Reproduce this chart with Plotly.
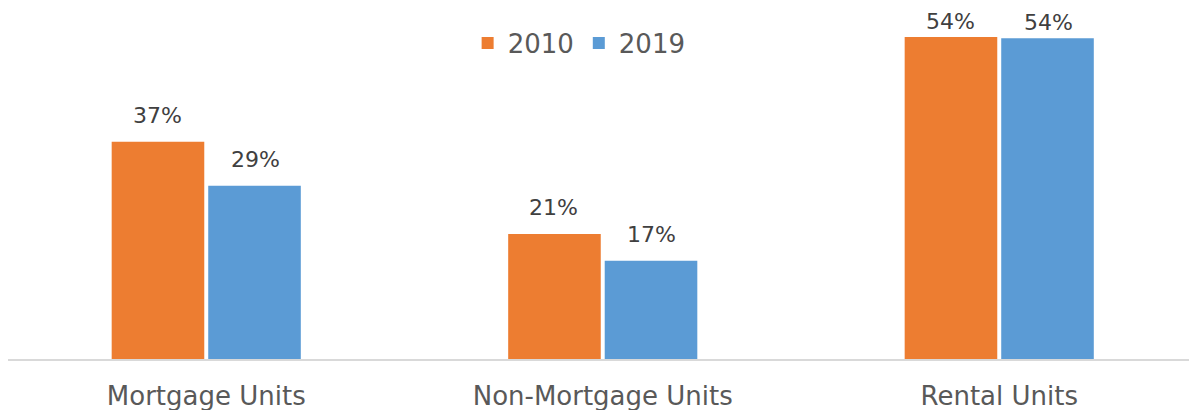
import plotly.graph_objects as go

categories = ["Mortgage Units", "Non-Mortgage Units", "Rental Units"]
series_names = ["2010", "2019"]
values_2010 = [36.5, 21.0, 54.1]
values_2019 = [29.1, 16.5, 53.9]
labels_2010 = ["37%", "21%", "54%"]
labels_2019 = ["29%", "17%", "54%"]

colors = ["#ED7D31", "#5B9BD5"]
FONT = "DejaVu Sans"

fig = go.Figure()
for name, vals, col in zip(series_names, [values_2010, values_2019], colors):
    fig.add_trace(go.Bar(
        x=categories, y=vals, name=name,
        marker=dict(color=col, line=dict(width=0)),
        width=0.2335,
        hoverinfo="skip",
    ))

slot_px = 48.8
Y_MAX = 60
for vals, labs, shift in [(values_2010, labels_2010, -slot_px), (values_2019, labels_2019, slot_px)]:
    for c, v, t in zip(categories, vals, labs):
        # labels near the top of the chart are pushed down to stay inside
        ys = 12 if v < 0.85 * Y_MAX else 1
        fig.add_annotation(
            x=c, y=v, text=t, showarrow=False,
            xshift=shift, yshift=ys, yanchor="bottom",
            font=dict(family=FONT, size=22, color="#404040"),
        )

fig.update_layout(
    width=1189, height=410,
    margin=dict(l=8, r=0, t=2, b=51, autoexpand=False),
    paper_bgcolor="white", plot_bgcolor="white",
    barmode="group", bargap=0.513, bargroupgap=0.052,
    showlegend=True,
    legend=dict(
        orientation="h", x=0.4836, xanchor="center", y=0.885, yanchor="middle",
        font=dict(family=FONT, size=26, color="#595959"),
        bgcolor="rgba(0,0,0,0)",
    ),
    xaxis=dict(
        range=[-0.5, 2.4786], showgrid=False, zeroline=False, automargin=False,
        showline=True, linecolor="#D9D9D9", linewidth=1.5,
        ticks="", ticklabelstandoff=13,
        tickfont=dict(family=FONT, size=26, color="#595959"),
    ),
    yaxis=dict(range=[0, Y_MAX], visible=False, showgrid=False, zeroline=False, automargin=False),
)

fig.write_html(
    "out.html",
    config={"displayModeBar": False},
    post_script="document.body.style.margin='0';document.body.style.overflow='hidden';",
)
